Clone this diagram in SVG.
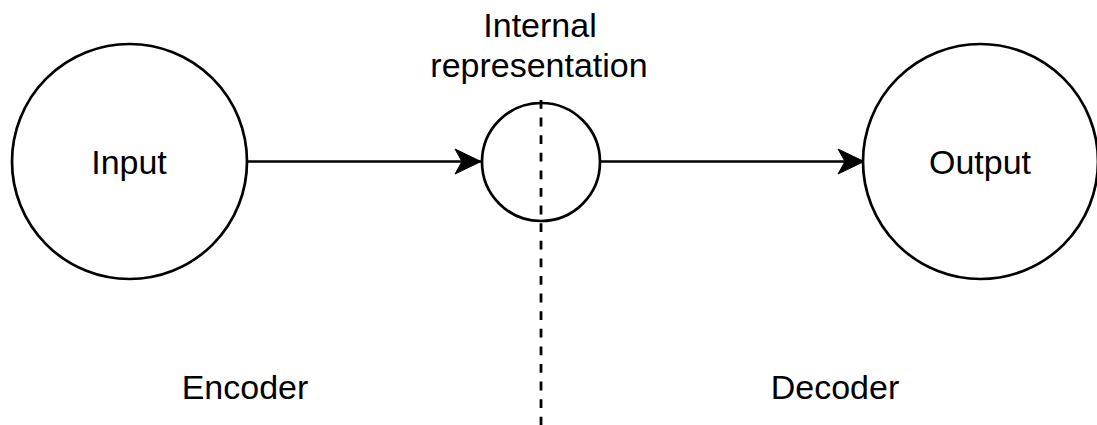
<svg xmlns="http://www.w3.org/2000/svg" width="1097" height="425" viewBox="0 0 1097 425">
  <style>
    .node { fill: #ffffff; stroke: #000000; stroke-width: 2.7; }
    .lbl { font-family: "Liberation Sans", Arial, Helvetica, sans-serif; font-size: 34px; fill: #000000; text-anchor: middle; }
    .edge { fill: none; stroke: #000000; stroke-width: 2.7; }
    .dash { fill: none; stroke: #000000; stroke-width: 2.8; stroke-dasharray: 8.8 8.8; }
  </style>
  <defs>
    <marker id="arrow" markerUnits="userSpaceOnUse" markerWidth="30" markerHeight="30" viewBox="0 0 30 30" refX="27" refY="15" orient="auto">
      <path d="M 1 2.5 L 27 15 L 1 27.5 L 8 15 Z" fill="#000000" stroke="#000000" stroke-width="1"/>
    </marker>
  </defs>
  <rect x="0" y="0" width="1097" height="425" fill="#ffffff"/>
  <g id="input">
    <circle class="node" cx="129.5" cy="161.5" r="117.5"/>
    <text class="lbl" x="129" y="174">Input</text>
  </g>
  <g id="internal">
    <circle class="node" cx="541" cy="162" r="59"/>
    <text class="lbl" x="540" y="37">Internal</text>
    <text class="lbl" x="539" y="77">representation</text>
  </g>
  <g id="output">
    <circle class="node" cx="980.5" cy="161.5" r="117.5"/>
    <text class="lbl" x="980" y="174">Output</text>
  </g>
  <g id="encoder">
    <text class="lbl" x="245" y="399">Encoder</text>
  </g>
  <g id="decoder">
    <text class="lbl" x="835" y="399">Decoder</text>
  </g>
  <g id="connectors">
    <line class="edge" x1="247" y1="161.5" x2="481" y2="161.5" marker-end="url(#arrow)"/>
    <line class="edge" x1="600" y1="161.5" x2="864" y2="161.5" marker-end="url(#arrow)"/>
    <line class="dash" x1="541" y1="100" x2="541" y2="425"/>
  </g>
</svg>
